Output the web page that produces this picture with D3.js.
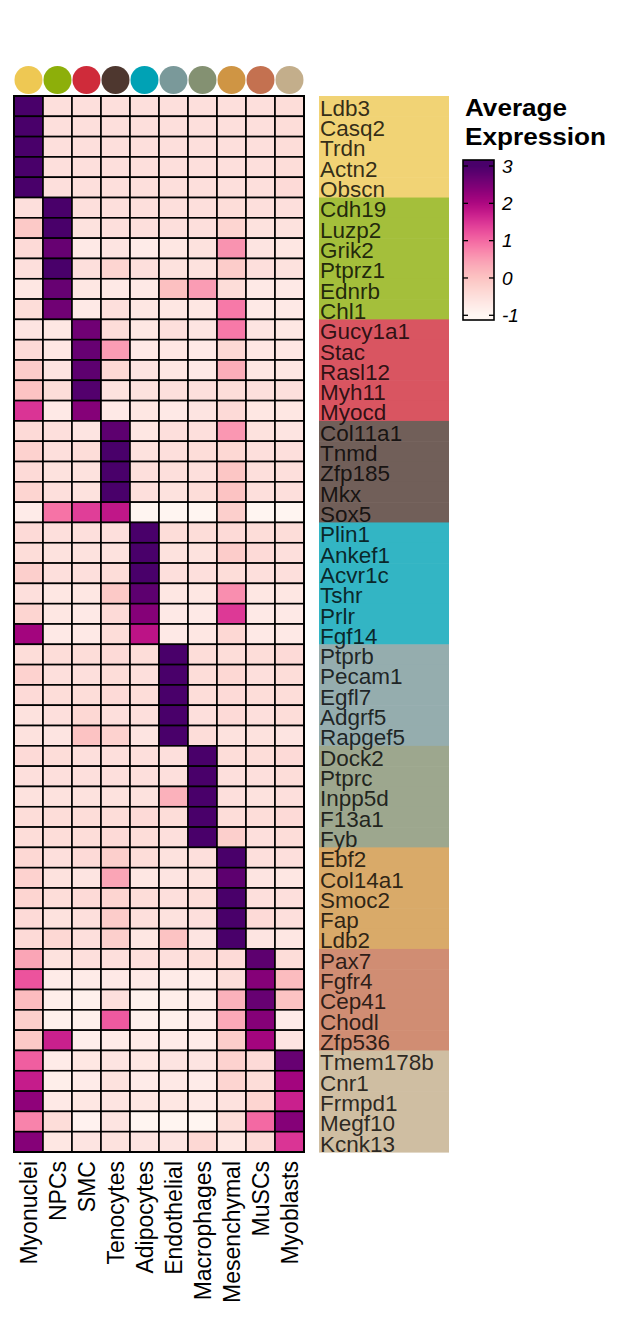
<!DOCTYPE html>
<html><head><meta charset="utf-8">
<script src="https://cdn.jsdelivr.net/npm/d3@7"></script>
<style>body{margin:0;background:#fff}svg{display:block}</style>
</head><body>
<svg id="chart" width="622" height="1330"></svg>
<script>
// ---- data ----
const cellTypes = ["Myonuclei","NPCs","SMC","Tenocytes","Adipocytes","Endothelial","Macrophages","Mesenchymal","MuSCs","Myoblasts"];
const cellColors = ["#EEC853","#8DAF0A","#CF2B3A","#4E372F","#00A2B5","#7A999A","#849172","#CF9544","#C47150","#C3AE8B"];

const genesMyonuclei   = ["Ldb3","Casq2","Trdn","Actn2","Obscn"];
const genesNPCs        = ["Cdh19","Luzp2","Grik2","Ptprz1","Ednrb","Chl1"];
const genesSMC         = ["Gucy1a1","Stac","Rasl12","Myh11","Myocd"];
const genesTenocytes   = ["Col11a1","Tnmd","Zfp185","Mkx","Sox5"];
const genesAdipocytes  = ["Plin1","Ankef1","Acvr1c","Tshr","Prlr","Fgf14"];
const genesEndothelial = ["Ptprb","Pecam1","Egfl7","Adgrf5","Rapgef5"];
const genesMacrophages = ["Dock2","Ptprc","Inpp5d","F13a1","Fyb"];
const genesMesenchymal = ["Ebf2","Col14a1","Smoc2","Fap","Ldb2"];
const genesMuSCs       = ["Pax7","Fgfr4","Cep41","Chodl","Zfp536"];
const genesMyoblasts   = ["Tmem178b","Cnr1","Frmpd1","Megf10","Kcnk13"];

// average expression per gene (rows) across cellTypes (columns)
const exprMyonuclei = [
  [3.0,-0.5,-0.5,-0.5,-0.5,-0.5,-0.5,-0.5,-0.5,-0.45],
  [3.0,-0.5,-0.5,-0.5,-0.5,-0.5,-0.5,-0.5,-0.5,-0.45],
  [3.0,-0.5,-0.5,-0.5,-0.5,-0.5,-0.5,-0.5,-0.5,-0.45],
  [3.0,-0.5,-0.5,-0.5,-0.5,-0.5,-0.5,-0.5,-0.5,-0.45],
  [3.0,-0.5,-0.5,-0.5,-0.5,-0.5,-0.5,-0.5,-0.5,-0.4]
];
const exprNPCs = [
  [-0.5,3.0,-0.5,-0.5,-0.5,-0.5,-0.5,-0.45,-0.5,-0.5],
  [-0.1,3.0,-0.55,-0.5,-0.5,-0.5,-0.5,-0.3,-0.55,-0.55],
  [-0.4,2.7,-0.7,-0.6,-0.75,-0.65,-0.55,0.6,-0.6,-0.65],
  [-0.5,3.0,-0.5,-0.3,-0.5,-0.55,-0.55,-0.15,-0.5,-0.55],
  [-0.65,2.7,-0.65,-0.7,-0.7,0.05,0.5,-0.45,-0.7,-0.7],
  [-0.45,2.6,-0.7,-0.5,-0.65,-0.65,-0.65,0.85,-0.7,-0.7]
];
const exprSMC = [
  [-0.6,-0.65,2.6,-0.45,-0.65,-0.5,-0.6,0.85,-0.6,-0.65],
  [-0.4,-0.65,2.7,0.5,-0.7,-0.65,-0.7,-0.35,-0.65,-0.65],
  [-0.15,-0.6,2.8,-0.35,-0.6,-0.65,-0.7,0.3,-0.65,-0.65],
  [0.0,-0.45,2.9,-0.55,-0.55,-0.5,-0.5,-0.45,-0.5,-0.5],
  [1.5,-0.7,2.4,-0.7,-0.65,-0.7,-0.6,-0.4,-0.65,-0.65]
];
const exprTenocytes = [
  [-0.4,-0.5,-0.6,2.8,-0.65,-0.5,-0.5,0.55,-0.55,-0.6],
  [-0.25,-0.5,-0.45,3.0,-0.55,-0.5,-0.45,-0.35,-0.5,-0.5],
  [-0.4,-0.55,-0.55,3.0,-0.5,-0.5,-0.5,-0.05,-0.5,-0.5],
  [-0.3,-0.5,-0.55,3.0,-0.5,-0.55,-0.45,0.0,-0.5,-0.5],
  [-0.75,0.9,1.4,1.8,-0.95,-0.95,-0.95,-0.2,-0.95,-0.95]
];
const exprAdipocytes = [
  [-0.4,-0.5,-0.5,-0.5,3.0,-0.45,-0.45,-0.4,-0.45,-0.45],
  [-0.45,-0.55,-0.55,-0.55,3.0,-0.55,-0.55,-0.15,-0.4,-0.5],
  [-0.2,-0.5,-0.5,-0.45,3.0,-0.5,-0.5,-0.45,-0.5,-0.5],
  [-0.5,-0.65,-0.65,-0.1,2.8,-0.65,-0.65,0.65,-0.65,-0.65],
  [-0.3,-0.65,-0.7,-0.4,2.4,-0.7,-0.7,1.45,-0.7,-0.7],
  [2.1,-0.7,-0.7,-0.45,1.85,-0.7,-0.65,-0.35,-0.7,-0.7]
];
const exprEndothelial = [
  [-0.45,-0.45,-0.45,-0.4,-0.45,3.0,-0.45,-0.45,-0.45,-0.4],
  [-0.25,-0.5,-0.5,-0.45,-0.5,3.0,-0.45,-0.35,-0.5,-0.45],
  [-0.4,-0.45,-0.45,-0.4,-0.45,3.0,-0.45,-0.4,-0.45,-0.45],
  [-0.55,-0.5,-0.35,-0.5,-0.5,3.0,-0.5,-0.4,-0.5,-0.45],
  [-0.55,-0.6,0.0,-0.25,-0.6,3.0,-0.45,-0.55,-0.55,-0.6]
];
const exprMacrophages = [
  [-0.4,-0.45,-0.5,-0.5,-0.5,-0.5,3.0,-0.45,-0.45,-0.4],
  [-0.5,-0.5,-0.5,-0.5,-0.5,-0.5,3.0,-0.5,-0.5,-0.45],
  [-0.55,-0.55,-0.55,-0.55,-0.55,0.25,3.0,-0.5,-0.55,-0.5],
  [-0.45,-0.45,-0.45,-0.45,-0.4,-0.45,3.0,-0.45,-0.45,-0.4],
  [-0.45,-0.45,-0.45,-0.4,-0.45,-0.5,3.0,-0.2,-0.5,-0.45]
];
const exprMesenchymal = [
  [-0.35,-0.5,-0.4,-0.2,-0.45,-0.55,-0.5,3.0,-0.5,-0.5],
  [-0.25,-0.55,-0.6,0.4,-0.65,-0.6,-0.55,2.8,-0.6,-0.65],
  [-0.3,-0.45,-0.4,-0.3,-0.45,-0.5,-0.45,3.0,-0.5,-0.5],
  [-0.4,-0.55,-0.5,-0.15,-0.5,-0.55,-0.5,3.0,-0.4,-0.5],
  [-0.4,-0.35,-0.5,-0.2,-0.65,0.0,-0.6,3.0,-0.6,-0.65]
];
const exprMuSCs = [
  [0.4,-0.55,-0.5,-0.5,-0.5,-0.5,-0.45,-0.4,2.8,-0.45],
  [1.2,-0.75,-0.75,-0.7,-0.7,-0.75,-0.75,-0.45,2.4,0.1],
  [0.1,-0.8,-0.85,-0.5,-0.85,-0.8,-0.75,0.25,2.7,0.0],
  [-0.2,-0.85,-0.85,1.15,-0.85,-0.85,-0.75,0.35,2.4,-0.75],
  [-0.1,1.7,-0.8,-0.75,-0.75,-0.75,-0.75,-0.15,2.1,-0.6]
];
const exprMyoblasts = [
  [1.1,-0.75,-0.65,-0.6,-0.65,-0.6,-0.6,-0.25,-0.4,2.7],
  [1.75,-0.8,-0.75,-0.55,-0.75,-0.7,-0.75,-0.3,-0.45,2.1],
  [2.3,-0.7,-0.65,-0.6,-0.65,-0.65,-0.7,-0.55,-0.3,1.7],
  [0.75,-0.45,-0.9,-0.6,-0.95,-0.95,-0.95,-0.45,1.0,2.4],
  [2.4,-0.65,-0.6,-0.55,-0.6,-0.6,-0.35,-0.65,-0.4,1.5]
];
const legendTicks = [-1,0,1,2,3];

// ---- assemble ----
const groupGenes = [genesMyonuclei,genesNPCs,genesSMC,genesTenocytes,genesAdipocytes,genesEndothelial,genesMacrophages,genesMesenchymal,genesMuSCs,genesMyoblasts];
const groupExpr  = [exprMyonuclei,exprNPCs,exprSMC,exprTenocytes,exprAdipocytes,exprEndothelial,exprMacrophages,exprMesenchymal,exprMuSCs,exprMyoblasts];
const rows = [];
groupGenes.forEach((gs,gi)=>gs.forEach((g,k)=>rows.push({gene:g,group:gi,values:groupExpr[gi][k]})));
const cells = [];
rows.forEach(r=>r.values.forEach((v,ci)=>cells.push({gene:r.gene,cell:cellTypes[ci],value:v})));

const svg = d3.select("#chart");
const FONT = "'Liberation Sans', Arial, Helvetica, sans-serif";

const x = d3.scaleBand().domain(cellTypes).range([14,304]);
const y = d3.scaleBand().domain(rows.map(r=>r.gene)).range([96,1152]);
const color = d3.scaleSequential(d3.interpolateRdPu).domain([-1,3]).clamp(true);
// strip colour = annotation colour at 80% opacity over white (opaque, no seams)
const stripColor = i => d3.interpolateRgb("#ffffff", cellColors[i])(0.8);

// top annotation dots
svg.append("g").selectAll("circle").data(cellTypes).join("circle")
  .attr("cx",d=>x(d)+x.bandwidth()/2).attr("cy",80).attr("r",14)
  .attr("fill",(d,i)=>cellColors[i]);

// heatmap cells
svg.append("g").selectAll("rect").data(cells).join("rect")
  .attr("x",d=>x(d.cell)).attr("y",d=>y(d.gene))
  .attr("width",x.bandwidth()).attr("height",y.bandwidth())
  .attr("fill",d=>color(d.value))
  .attr("stroke","#000").attr("stroke-width",1.6);
svg.append("rect").attr("x",14).attr("y",96).attr("width",290).attr("height",1056)
  .attr("fill","none").attr("stroke","#000").attr("stroke-width",2);

// right label strip
const strip = svg.append("g");
strip.selectAll("rect").data(rows).join("rect")
  .attr("x",319).attr("y",d=>y(d.gene)).attr("width",130).attr("height",y.bandwidth()+0.6)
  .attr("fill",d=>stripColor(d.group));
strip.selectAll("text").data(rows).join("text")
  .attr("x",320).attr("y",d=>y(d.gene)+y.bandwidth()-0.5)
  .attr("font-family",FONT).attr("font-size",22.5)
  .attr("fill","#000").attr("fill-opacity",0.8)
  .text(d=>d.gene);

// bottom column labels
svg.append("g").selectAll("text").data(cellTypes).join("text")
  .attr("transform",d=>`translate(${x(d)+x.bandwidth()/2},1161) rotate(-90)`)
  .attr("text-anchor","end").attr("dy","0.35em")
  .attr("font-family",FONT).attr("font-size",23).attr("fill","#000")
  .text(d=>d);

// legend
const lg = svg.append("g");
lg.append("text").attr("x",465).attr("y",116).attr("font-family",FONT).attr("font-weight","bold")
  .attr("font-size",23).attr("textLength",102).attr("lengthAdjust","spacingAndGlyphs").text("Average");
lg.append("text").attr("x",465).attr("y",145).attr("font-family",FONT).attr("font-weight","bold")
  .attr("font-size",23).attr("textLength",141).attr("lengthAdjust","spacingAndGlyphs").text("Expression");
const ly = d3.scaleLinear().domain([-1,3]).range([315.3,166]);
const barTop = 160, barBot = 320, barX = 463, barW = 31;
const steps = d3.range(barTop, barBot, 1);
lg.append("g").selectAll("rect").data(steps).join("rect")
  .attr("x",barX).attr("y",d=>d).attr("width",barW).attr("height",1.2)
  .attr("fill",d=>color(ly.invert(d+0.5)));
lg.append("g").selectAll("g").data(legendTicks).join("g").each(function(t){
  const g = d3.select(this);
  g.append("line").attr("x1",barX).attr("x2",barX+5).attr("y1",ly(t)).attr("y2",ly(t)).attr("stroke","#000").attr("stroke-width",1.3);
  g.append("line").attr("x1",barX+barW-5).attr("x2",barX+barW).attr("y1",ly(t)).attr("y2",ly(t)).attr("stroke","#000").attr("stroke-width",1.3);
});
lg.append("rect").attr("x",barX).attr("y",barTop).attr("width",barW).attr("height",barBot-barTop)
  .attr("fill","none").attr("stroke","#000").attr("stroke-width",1.6);
lg.append("g").selectAll("text").data(legendTicks).join("text")
  .attr("x",502).attr("y",d=>ly(d)).attr("dy","0.36em")
  .attr("font-family",FONT).attr("font-style","italic").attr("font-size",19)
  .text(d=>d);
</script>
</body></html>
